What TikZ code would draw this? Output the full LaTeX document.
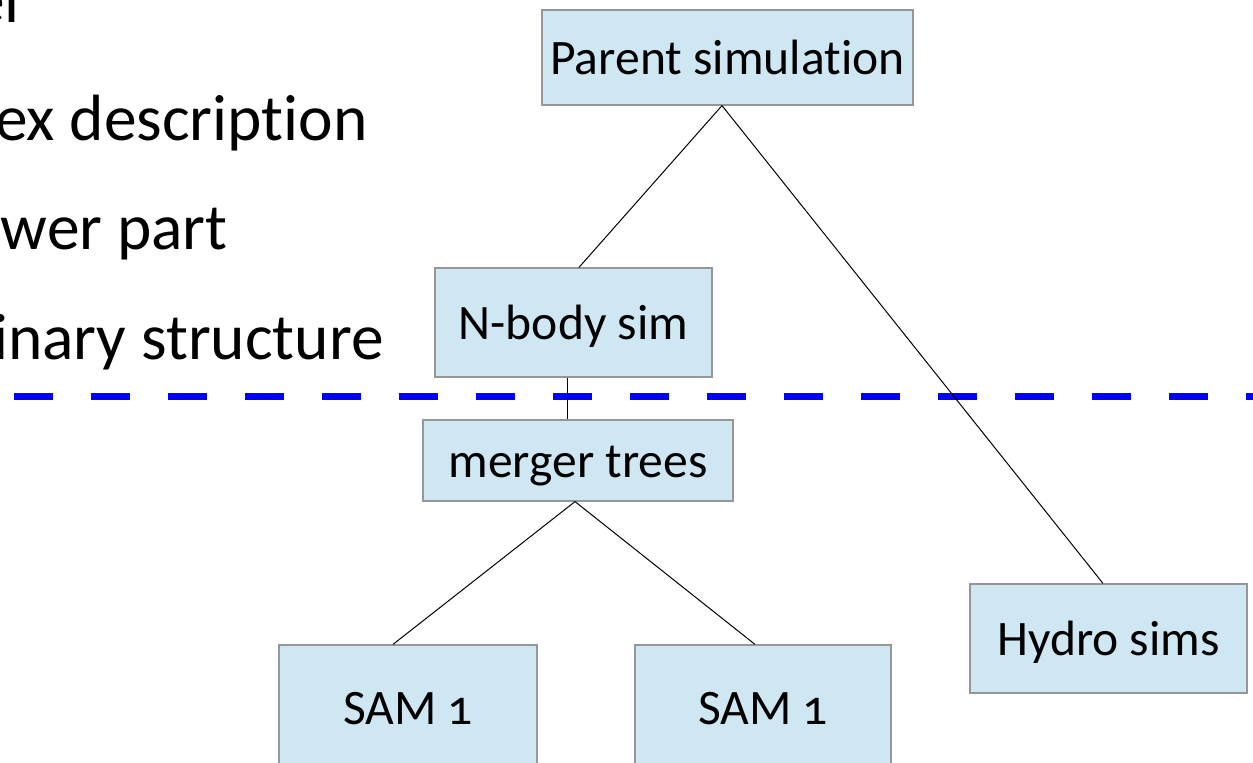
\documentclass[tikz,border=0pt]{standalone}
\usepackage{fontspec}
\setmainfont{Carlito}[Ligatures=NoCommon]
\usepackage{xcolor}
\usepackage{tikz}
\usetikzlibrary{calc,shapes,positioning}
\definecolor{boxfill}{RGB}{207,230,243}
\definecolor{boxline}{RGB}{150,150,150}
\tikzset{
  simbox/.style={draw=boxline, fill=boxfill, line width=0.6pt, inner sep=0pt,
    text height=17.4pt, text depth=0pt, font=\fontsize{24.8}{30}\selectfont},
  link/.style={line width=0.5pt},
  bullettext/.style={anchor=base east, inner sep=0pt, font=\fontsize{32.7}{39}\selectfont}
}

\begin{document}
\begin{tikzpicture}[x=0.5pt, y=0.5pt]
\clip (0,0) rectangle (1253,762);
% text cut off at the left edge
\node[bullettext] (txtA) at (20,739) {el};
\node[bullettext] (txtB) at (368,621) {ex description};
\node[bullettext] (txtC) at (228,512) {wer part};
\node[bullettext] (txtD) at (384,403) {inary structure};
% dividing line
\draw[blue, line width=3.5pt, dash pattern=on 19.25pt off 19.25pt] (14,366) -- (1253,366);
% boxes
\node[simbox, minimum width=185.5pt, minimum height=47.5pt] (parent) at (727.5,704.5) {Parent simulation};
\node[simbox, minimum width=138.5pt, minimum height=54.5pt] (nbody) at (573.5,439.5) {N-body sim};
\node[simbox, minimum width=155pt, minimum height=40.5pt] (merger) at (578,301.5) {merger trees};
\node[simbox, minimum width=129pt, minimum height=62pt] (samA) at (408,55) {SAM \addfontfeatures{Numbers=OldStyle}1};
\node[simbox, minimum width=128pt, minimum height=62pt] (samB) at (763,55) {SAM \addfontfeatures{Numbers=OldStyle}1};
\node[simbox, minimum width=138.5pt, minimum height=54.5pt] (hydro) at (1108.5,123.5) {Hydro sims};
% tree
\draw[link] ([xshift=-2.75pt]parent.south) -- ([xshift=2.75pt]nbody.north);
\draw[link] ([xshift=-2.75pt]parent.south) -- ([xshift=-2.75pt]hydro.north);
\draw[link] ([xshift=-3.25pt]nbody.south) -- ([xshift=-3.25pt]nbody.south |- merger.north);
\draw[link] ([xshift=-1.5pt]merger.south) -- ([xshift=-7.5pt]samA.north);
\draw[link] ([xshift=-1.5pt]merger.south) -- ([xshift=-4pt]samB.north);
\end{tikzpicture}
\end{document}
